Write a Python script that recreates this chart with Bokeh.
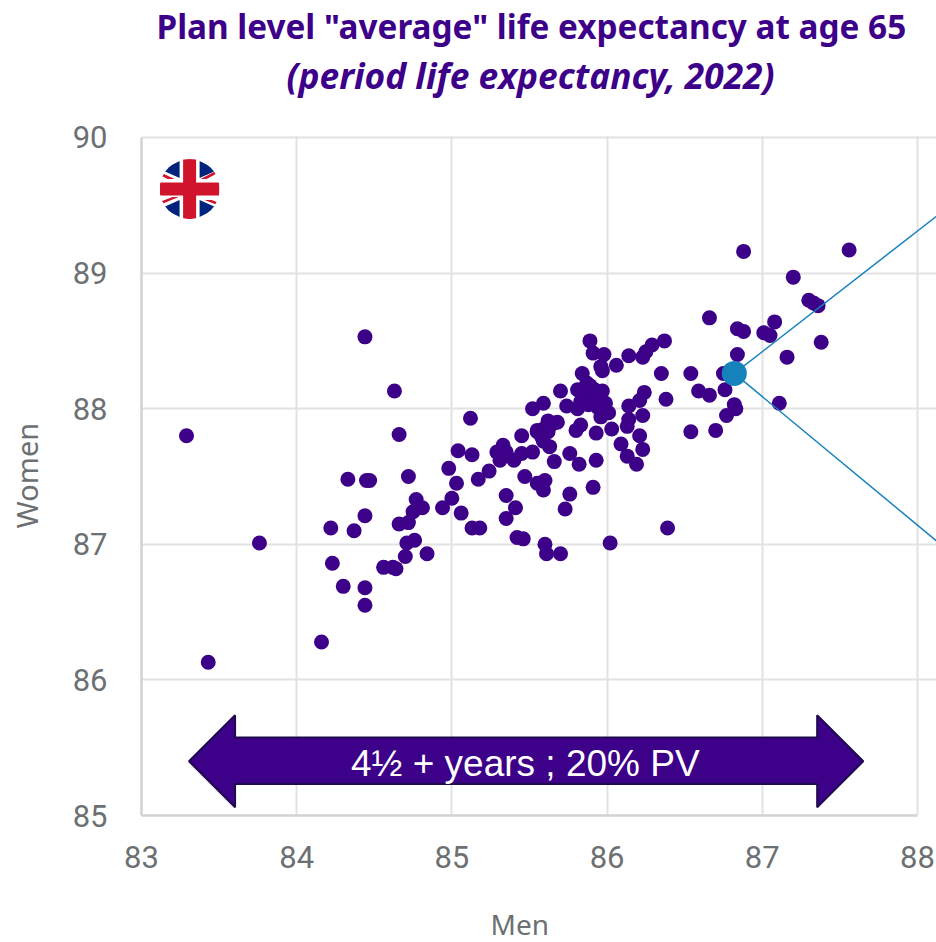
import base64
from bokeh.plotting import figure
from bokeh.models import Label, FixedTicker, Range1d, Title
from bokeh.embed import file_html
from bokeh.resources import INLINE

TITLE_1 = 'Plan level "average" life expectancy at  age 65'
TITLE_2 = "(period life expectancy, 2022)"
X_LABEL = "Men"
Y_LABEL = "Women"
ARROW_TEXT = "4½ + years ; 20% PV"
X_TICKS = [83, 84, 85, 86, 87, 88]
Y_TICKS = [85, 86, 87, 88, 89, 90]

men = [84.44,84.63,84.66,83.29,85.12,85.52,85.45,85.55,85.04,85.13,85.33,85.29,85.35,85.31,85.52,85.45,85.40,
       84.33,84.45,84.47,84.72,84.98,85.03,85.17,85.24,85.47,85.55,85.35,85.41,85.35,85.00,84.94,85.06,84.77,
       84.81,84.75,84.44,84.22,84.37,84.66,84.72,85.13,85.18,85.42,85.46,85.60,85.61,85.70,85.73,84.71,84.76,
       84.84,84.70,84.56,84.64,84.62,84.23,84.30,84.44,84.44,84.16,83.43,83.76,
       86.88,87.56,87.20,87.30,87.33,87.36,86.66,86.84,86.88,87.08,87.01,87.05,87.38,87.16,86.84,86.75,86.54,
       86.35,86.38,86.59,86.66,86.76,86.82,86.83,86.77,87.11,86.54,86.70,86.37,86.29,86.25,86.23,86.14,86.06,
       85.98,85.91,85.89,85.97,85.96,85.84,85.70,86.24,86.21,86.14,86.23,86.14,86.13,86.03,85.93,85.83,85.80,
       86.21,86.23,86.09,86.13,86.19,85.93,85.82,85.76,85.66,85.60,85.56,85.59,85.91,85.76,86.02,86.39,
       85.59,85.74,85.81,85.81,85.87,85.92,85.97,85.85,85.91,85.99,85.94,86.01,85.96,85.98,85.83,85.89,85.88,
       85.68,85.62,85.55,85.59,85.58,85.63,85.59,85.62,85.65]
women = [88.53,88.13,87.81,87.80,87.93,88.00,87.80,87.83,87.69,87.66,87.73,87.68,87.68,87.62,87.68,87.67,87.62,
         87.48,87.47,87.47,87.50,87.56,87.45,87.48,87.54,87.50,87.45,87.36,87.27,87.19,87.34,87.27,87.23,87.33,
         87.27,87.24,87.21,87.12,87.10,87.15,87.16,87.12,87.12,87.05,87.04,87.00,86.93,86.93,87.26,87.01,87.03,
         86.93,86.91,86.83,86.82,86.83,86.86,86.69,86.68,86.55,86.28,86.13,87.01,
         89.16,89.17,88.97,88.80,88.78,88.76,88.67,88.59,88.57,88.64,88.56,88.54,88.49,88.38,88.40,88.26,88.26,
         88.26,88.07,88.13,88.10,88.14,88.03,88.00,87.95,88.04,87.83,87.84,88.50,88.47,88.42,88.38,88.39,88.32,
         88.40,88.41,88.50,88.28,88.31,88.26,88.13,88.12,88.06,88.02,87.95,87.92,87.87,87.85,87.82,87.88,87.84,
         87.80,87.70,87.74,87.65,87.59,87.62,87.59,87.67,87.61,87.47,87.45,87.40,87.42,87.37,87.01,87.12,
         88.04,88.02,88.00,88.14,88.19,88.14,88.13,88.09,88.08,88.04,88.01,87.97,87.94,87.99,88.05,88.17,88.03,
         87.90,87.91,87.84,87.85,87.79,87.72,87.76,87.83,87.89]
highlight_men = [86.82]
highlight_women = [88.26]
# call-out line ends, at the picture's right edge
callout_men = [88.123, 88.123]
callout_women = [89.419, 87.025]
# band arrow outline
arrow_men = [83.306, 83.603, 83.603, 87.354, 87.354, 87.651, 87.354, 87.354, 83.603, 83.603]
arrow_women = [85.40, 85.74, 85.575, 85.575, 85.74, 85.40, 85.06, 85.232, 85.232, 85.06]

PURPLE = "#3d0088"
BLUE = "#1682bc"
GREY = "#6c7073"

# frame runs to the picture's right edge so the call-out lines can reach it; axes and grids stop at 88
p = figure(width=936, height=942, output_backend="svg", toolbar_location=None,
           x_range=Range1d(83, 88.123), y_range=Range1d(85, 90.0147),
           frame_width=795, frame_height=680, min_border_left=141, min_border_right=0,
           min_border_top=135, min_border_bottom=127, background_fill_color="white")
p.outline_line_color = None
p.xaxis.ticker = FixedTicker(ticks=X_TICKS)
p.yaxis.ticker = FixedTicker(ticks=Y_TICKS)
p.xaxis.bounds = (83, 88)
p.yaxis.bounds = (85, 90)
p.xgrid.bounds = (85, 90)
p.ygrid.bounds = (83, 88)
for ax in (p.xaxis[0], p.yaxis[0]):
    ax.major_tick_line_color = None
    ax.minor_tick_line_color = None
    ax.axis_line_color = "#d2d2d2"
    ax.axis_line_width = 2.5
    ax.major_label_text_color = GREY
    ax.major_label_text_font = "Roboto"
    ax.major_label_text_font_size = "31px"
p.xaxis[0].major_label_standoff = 24
p.yaxis[0].major_label_standoff = 28
p.yaxis[0].major_label_orientation = "horizontal"
p.yaxis[0].axis_label = Y_LABEL
p.yaxis[0].axis_label_text_font = "Noto Sans"
p.yaxis[0].axis_label_text_font_style = "normal"
p.yaxis[0].axis_label_text_font_size = "29px"
p.yaxis[0].axis_label_text_color = GREY
p.yaxis[0].axis_label_standoff = 24

p.grid.grid_line_color = "#e2e2e2"
p.grid.grid_line_width = 2

p.scatter(men, women, size=15, color=PURPLE, line_color=PURPLE, line_width=0)
p.patch(arrow_men, arrow_women, fill_color=PURPLE, line_color="#1e0a4c", line_width=2)
for xe, ye in zip(callout_men, callout_women):
    p.line([highlight_men[0], xe], [highlight_women[0], ye], line_color=BLUE, line_width=1.5)
p.scatter(highlight_men, highlight_women, size=25, color=BLUE, line_width=0)

flag_svg = """<svg xmlns='http://www.w3.org/2000/svg' width='60' height='60' viewBox='-30 -30 60 60'>
<defs><clipPath id='c'><circle r='30'/></clipPath></defs><g clip-path='url(#c)'>
<rect x='-30' y='-30' width='60' height='60' fill='#fff'/>
<path d='M-10-28-28-19-10-11ZM10-28 28-19 10-11ZM-10 28-28 19-10 11ZM10 28 28 19 10 11Z' fill='#00247d'/>
<path d='M-30-17-15-10-22-10-30-14ZM30-20 11-10 17-10 30-17ZM-30 16-11 8-17 8-30 13ZM30 14 22 11 15 11 30 17Z' fill='#cf142b'/>
<rect x='-6.5' y='-30' width='13' height='60' fill='#cf142b'/><rect x='-30' y='-6.5' width='60' height='13' fill='#cf142b'/>
</g></svg>"""
flag_url = "data:image/svg+xml;base64," + base64.b64encode(flag_svg.encode()).decode()
p.image_url(url=[flag_url], x=[83.31], y=[89.62], w=60, h=60, w_units="screen", h_units="screen", anchor="center")

p.add_layout(Title(text=" ", text_font_size="1px", standoff=34), "above")
p.add_layout(Title(text=TITLE_2, text_font="Noto Sans", text_font_style="bold italic", text_font_size="35.3px",
                   text_line_height=0.78, text_color=PURPLE, align="left", offset=145, standoff=0), "above")
p.add_layout(Title(text=TITLE_1, text_font="Noto Sans", text_font_style="bold", text_font_size="33.3px",
                   text_line_height=0.8, text_color=PURPLE, align="left", offset=15, standoff=0), "above")
p.add_layout(Label(x=85.473, y=85.38, text=ARROW_TEXT, text_font="Liberation Sans", text_font_size="37px",
                   text_color="white", text_align="center", text_baseline="alphabetic"))
p.add_layout(Title(text=" ", text_font_size="1px", standoff=29), "below")
p.add_layout(Title(text=X_LABEL, text_font="Noto Sans", text_font_style="normal", text_font_size="28px",
                   text_line_height=0.9, text_color=GREY, align="left", offset=349, standoff=0), "below")

open("out.html", "w").write(file_html(p, INLINE))
